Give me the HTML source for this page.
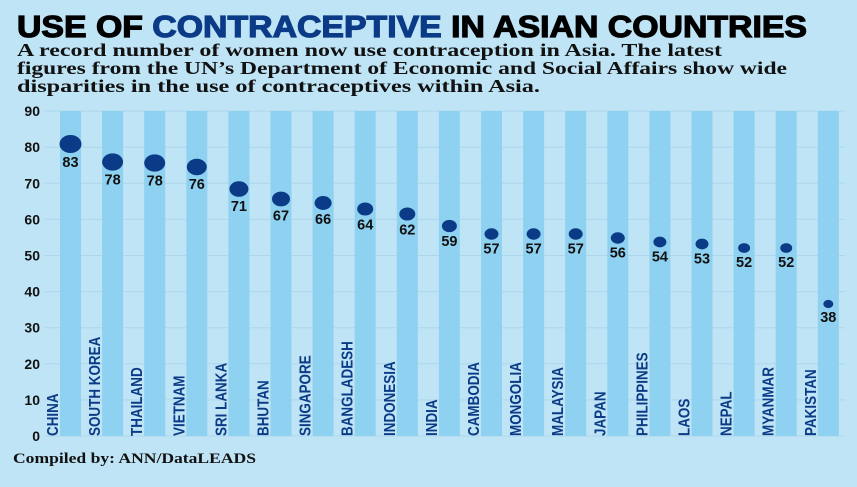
<!DOCTYPE html>
<html><head><style>
body{margin:0;width:857px;height:482px;background:#bfe4f6;overflow:hidden;font-family:"Liberation Sans",sans-serif}
</style></head><body>
<svg width="857" height="482" xmlns="http://www.w3.org/2000/svg">
<rect width="857" height="482" fill="#bfe4f6"/>
<text x="17" y="37" font-family="Liberation Sans" font-weight="900" font-size="31" textLength="790" lengthAdjust="spacingAndGlyphs" stroke="#000" stroke-width="1.2" fill="#000">USE OF <tspan fill="#0b3b86" stroke="#0b3b86">CONTRACEPTIVE</tspan> IN ASIAN COUNTRIES</text>
<g font-family="Liberation Serif" font-weight="bold" font-size="17.5" fill="#111">
<text x="17" y="56" textLength="705" lengthAdjust="spacingAndGlyphs">A record number of women now use contraception in Asia. The latest</text>
<text x="17" y="74" textLength="770" lengthAdjust="spacingAndGlyphs">figures from the UN’s Department of Economic and Social Affairs show wide</text>
<text x="17" y="92" textLength="523" lengthAdjust="spacingAndGlyphs">disparities in the use of contraceptives within Asia.</text>
</g>
<g id="g"></g>
<text x="13" y="463" font-family="Liberation Serif" font-weight="bold" font-size="15" fill="#111" textLength="243" lengthAdjust="spacingAndGlyphs">Compiled by: ANN/DataLEADS</text>
<script>
var s='http://www.w3.org/2000/svg',g=document.getElementById('g');
function el(t,a,tx){var e=document.createElementNS(s,t);for(var k in a)e.setAttribute(k,a[k]);if(tx!=null)e.textContent=tx;g.appendChild(e);return e;}
for(var i=0;i<=9;i++){var y=436-i*36.1;el('line',{x1:45,x2:845,y1:y,y2:y,stroke:'#aed6ea','stroke-width':1});
el('text',{x:40,y:y+5,'text-anchor':'end','font-weight':'bold','font-size':14,fill:'#111'},i*10);}
var c=['CHINA','SOUTH KOREA','THAILAND','VIETNAM','SRI LANKA','BHUTAN','SINGAPORE','BANGLADESH','INDONESIA','INDIA','CAMBODIA','MONGOLIA','MALAYSIA','JAPAN','PHILIPPINES','LAOS','NEPAL','MYANMAR','PAKISTAN'];
var v=[83,78,78,76,71,67,66,64,62,59,57,57,57,56,54,53,52,52,38];
var dy=[144,162,163,167,189,199,203,209,214,226,234,234,234,238,242,244,248,248,304];
var rx=[11,10.5,10.5,10,9.5,9,8.5,8,8,7.5,7,7,7,7,6.5,6.5,6,6,5];
for(var i=0;i<19;i++){var x=60+i*42.1;
el('rect',{x:x,y:111,width:21,height:325,fill:'#8fd1f0'});
var t=el('text',{x:0,y:0,transform:'translate('+(x-2)+',436) rotate(-90)','font-size':16,'font-weight':'bold',fill:'#0b3b86'},c[i]);
var L=t.getComputedTextLength();t.setAttribute('textLength',L*0.84);t.setAttribute('lengthAdjust','spacingAndGlyphs');
var cx=x+10.5;el('ellipse',{cx:cx,cy:dy[i],rx:rx[i],ry:rx[i]*0.82,fill:'#0b3b86'});
el('text',{x:cx,y:dy[i]+rx[i]*0.82+14,'text-anchor':'middle','font-weight':'bold','font-size':14.5,fill:'#111'},v[i]);}
</script>
</svg>
</body></html>
